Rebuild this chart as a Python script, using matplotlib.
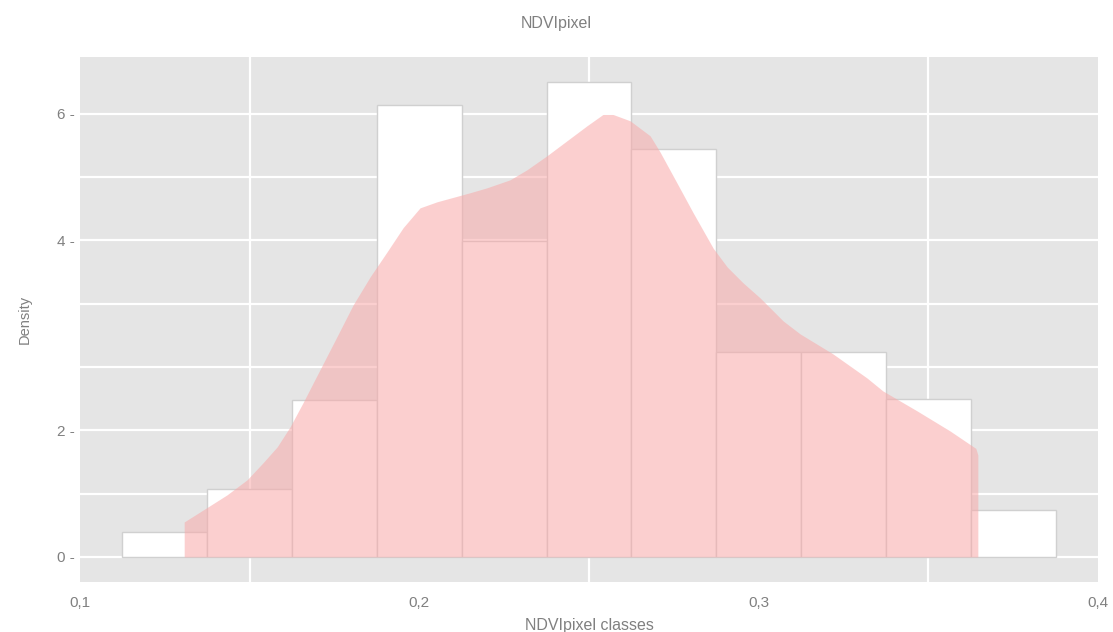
import numpy as np
import matplotlib
matplotlib.use("Agg")
import matplotlib.pyplot as plt

plt.rcParams['font.family'] = ['Liberation Sans', 'DejaVu Sans']

# histogram (density)
bin_left = 0.1125
bin_width = 0.025
densities = [0.34, 0.92, 2.13, 6.12, 4.28, 6.43, 5.52, 2.77, 2.77, 2.14, 0.64]

# density curve, traced points
kde_x = [0.1307, 0.1363, 0.1433, 0.1492, 0.1539, 0.1581, 0.1619, 0.1657, 0.1707,
         0.1757, 0.1805, 0.1855, 0.1905, 0.1952, 0.2002, 0.2052, 0.2149, 0.2199,
         0.2267, 0.2317, 0.2376, 0.2435, 0.2494, 0.2541, 0.2571, 0.2621, 0.2680,
         0.2709, 0.2759, 0.2807, 0.2866, 0.2907, 0.2954, 0.3004, 0.3072, 0.3122,
         0.3219, 0.3319, 0.3366, 0.3467, 0.3564, 0.3640, 0.3646]
kde_y = [0.474, 0.636, 0.840, 1.043, 1.273, 1.490, 1.761, 2.086, 2.533,
         2.980, 3.413, 3.792, 4.131, 4.456, 4.726, 4.808, 4.930, 4.997,
         5.105, 5.241, 5.431, 5.634, 5.837, 5.990, 5.990, 5.905, 5.702,
         5.485, 5.065, 4.659, 4.180, 3.927, 3.711, 3.508, 3.196, 3.020,
         2.749, 2.424, 2.248, 1.977, 1.706, 1.470, 1.380]

x_ticks = [0.1, 0.2, 0.3, 0.4]
x_labels = ["0,1", "0,2", "0,3", "0,4"]
y_labels = ["0 -", "", "2 -", "", "", "4 -", "", "6 -"]

fig = plt.figure(figsize=(11.13, 6.32), dpi=100)
ax = fig.add_axes([0.0719, 0.079, 0.9146, 0.831])
ax.set_facecolor("#e5e5e5")

lefts = bin_left + bin_width * np.arange(len(densities))
ax.bar(lefts, densities, width=bin_width, align="edge", color="white",
       edgecolor="#d0d0d0", linewidth=1, zorder=2)

ax.fill_between(kde_x, 0, kde_y, color="#f9a9a9", alpha=0.55, linewidth=0, zorder=3)

ax.set_xlim(0.1, 0.4)
ax.set_ylim(-0.34, 6.77)

ax.set_xticks(x_ticks)
ax.set_xticklabels(x_labels)
ax.set_xticks([0.15, 0.2, 0.25, 0.3, 0.35], minor=True)
ax.set_yticks(np.arange(8) * 6 / 7)
ax.set_yticklabels(y_labels)

ax.grid(False)
ax.xaxis.grid(True, which="minor", color="white", linewidth=1.6, zorder=1)
ax.yaxis.grid(True, which="major", color="white", linewidth=1.6, zorder=1)
ax.set_axisbelow(True)
ax.tick_params(axis="both", which="both", length=0, labelsize=11, labelcolor="#808080")
ax.tick_params(axis="x", pad=10)
ax.tick_params(axis="y", pad=4)
for s in ax.spines.values():
    s.set_visible(False)

ax.set_xlabel("NDVIpixel classes", fontsize=11.5, color="#808080", labelpad=6)
ax.set_ylabel("Density", fontsize=10.5, color="#808080", labelpad=18)
fig.suptitle("NDVIpixel", y=0.975, fontsize=11.5, color="#808080")

fig.savefig("out.png", dpi=100)
